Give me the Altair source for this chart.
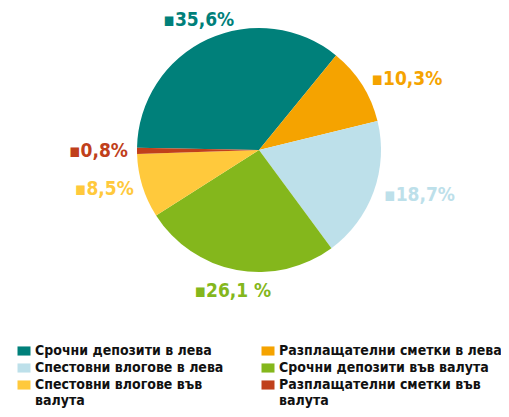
import altair as alt
import pandas as pd

categories = [
    "Срочни депозити в лева",
    "Разплащателни сметки в лева",
    "Спестовни влогове в лева",
    "Срочни депозити във валута",
    "Спестовни влогове във валута",
    "Разплащателни сметки във валута",
]
values = [35.6, 10.3, 18.7, 26.1, 8.5, 0.8]
labels = ["▪35,6%", "▪10,3%", "▪18,7%", "▪26,1 %", "▪8,5%", "▪0,8%"]
colors = ["#00807A", "#F5A300", "#BDE0EA", "#84B71C", "#FFC93C", "#C0401B"]
label_side = ["center", "left", "left", "center", "right", "right"]

# legend reads row by row in the reference; Vega fills columns first
legend_order = [0, 2, 4, 1, 3, 5]
legend_domain = [categories[i] for i in legend_order]
legend_colors = [colors[i] for i in legend_order]

df = pd.DataFrame({
    "cat": categories,
    "value": values,
    "label": labels,
    "side": label_side,
    "idx": list(range(len(categories))),
})

start = 4.73
theta_scale = alt.Scale(domain=[0, 100], range=[start, start + 6.28318])
FONT = "Liberation Sans Narrow, DejaVu Sans Condensed, sans-serif"
cscale = alt.Scale(domain=legend_domain, range=legend_colors)

color = alt.Color(
    "cat:N",
    sort=legend_domain,
    scale=cscale,
    legend=alt.Legend(
        title=None,
        orient="none",
        legendX=9,
        legendY=336,
        columns=2,
        columnPadding=37,
        rowPadding=3,
        symbolType="M-1,-0.7H1V0.7H-1Z",
        symbolSize=169,
        symbolStrokeWidth=0,
        symbolOpacity=1,
        labelFont=FONT,
        labelFontSize=14,
        labelFontWeight="bold",
        labelColor="#111111",
        labelLimit=400,
        labelExpr="length(datum.label) > 27 ? [slice(datum.label, 0, lastindexof(datum.label, ' ')), slice(datum.label, lastindexof(datum.label, ' ') + 1)] : datum.label",
    ),
)

base = alt.Chart(df)

pie = base.mark_arc(outerRadius=122).encode(
    theta=alt.Theta("value:Q", stack=True, scale=theta_scale),
    color=color,
    order=alt.Order("idx:Q"),
    x=alt.value(251),
    y=alt.value(142),
)

lab_base = base.transform_window(
    cum="sum(value)", sort=[alt.SortField("idx")]
).transform_calculate(mid="datum.cum - datum.value / 2")


def label_layer(side, radius):
    return lab_base.transform_filter(alt.datum.side == side).mark_text(
        radius=radius, align=side, font=FONT, fontSize=19, fontWeight="bold"
    ).encode(
        theta=alt.Theta("mid:Q", scale=theta_scale),
        text="label:N",
        color=alt.Color("cat:N", sort=legend_domain, scale=cscale, legend=None),
        x=alt.value(251),
        y=alt.value(142),
    )


chart = alt.layer(
    pie,
    label_layer("center", 143),
    label_layer("left", 133),
    label_layer("right", 131),
).properties(
    width=493,
    height=401,
    autosize=alt.AutoSizeParams(type="none"),
    padding=0,
).configure_view(stroke=None)

chart.save("out.html", embed_options={"renderer": "svg", "actions": False})
